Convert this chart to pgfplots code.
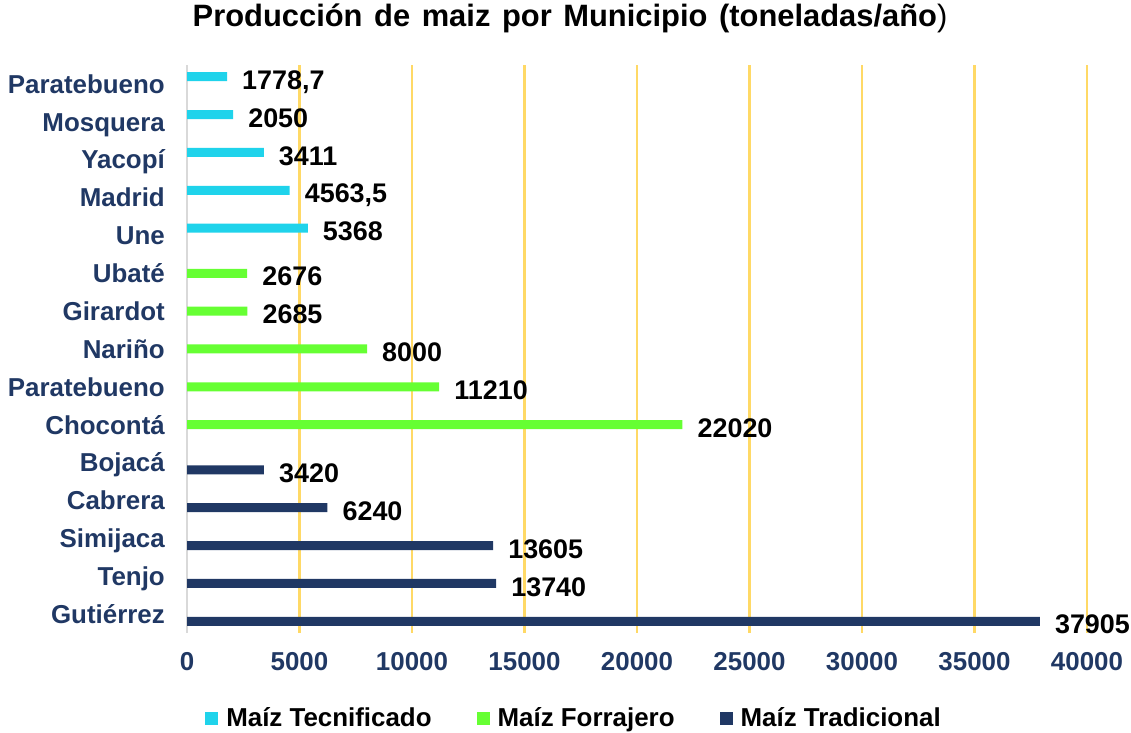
\documentclass[border=0pt]{standalone}
\usepackage{pgfplots}
\pgfplotsset{compat=1.18}
\usepackage{fontspec}
\setmainfont{Liberation Sans}
\definecolor{cTec}{HTML}{1FD3EB}
\definecolor{cFor}{HTML}{66FF33}
\definecolor{cTra}{HTML}{203864}
\definecolor{cGrid}{HTML}{FFD966}
\definecolor{cAxis}{HTML}{D9D9D9}
\newcommand{\bigb}{\bfseries\fontsize{26}{30}\selectfont}
\newcommand{\valb}{\bfseries\fontsize{27}{31}\selectfont}
\begin{document}
\begin{tikzpicture}[x=1bp,y=1bp]
\useasboundingbox (0,0) rectangle (1131,733);
\node[font=\bfseries\fontsize{31}{35}\selectfont, anchor=center] at (570,715) {Producción\hspace{3bp} de\hspace{3bp} maiz\hspace{3bp} por\hspace{3bp} Municipio\hspace{3bp} (toneladas/año\mdseries)};
\begin{axis}[
  at={(187bp,100bp)}, anchor=south west,
  scale only axis, width=900bp, height=568bp,
  xbar, bar width=9bp,
  xmin=0, xmax=40000, ymin=-0.5, ymax=14.5,
  xtick={0,5000,...,40000},
  scaled x ticks=false,
  ytick={0,...,14},
  yticklabels={Gutiérrez,Tenjo,Simijaca,Cabrera,Bojacá,Chocontá,Paratebueno,Nariño,Girardot,Ubaté,Une,Madrid,Yacopí,Mosquera,Paratebueno},
  axis lines*=left,
  x axis line style={draw=none},
  y axis line style={draw=cAxis, line width=2bp},
  major tick length=0pt,
  xmajorgrids,
  major grid style={draw=cGrid, line width=2.5bp},
  /pgf/number format/assume math mode=true,
  /pgf/number format/use comma,
  /pgf/number format/1000 sep={},
  xticklabel style={font=\bigb, text=cTra, inner sep=0pt, yshift=-19bp, /pgf/number format/fixed},
  yticklabel style={font=\bigb, text=cTra, inner sep=0pt, xshift=-22bp, text height=18.6bp, text depth=0pt, anchor=east},
  nodes near coords,
  every node near coord/.append style={font=\valb, black, anchor=west, inner sep=0pt, xshift=15bp, yshift=-3bp, text height=19.3bp, text depth=0pt},
  clip=false,
  legend columns=3,
  legend style={at={(0.43,-0.15)}, anchor=center, draw=none, font=\bigb, text=black,
    /tikz/every odd column/.append style={column sep=6bp},
    /tikz/every even column/.append style={column sep=43bp}},
  mylegend/.style={legend image code/.code={\fill[##1, draw=none] (0bp,-6.5bp) rectangle (13bp,6.5bp);}},
]
\addplot[fill=cTec, draw=none, bar shift=7.2bp, mylegend] coordinates {(1778.7,14) (2050,13) (3411,12) (4563.5,11) (5368,10)};
\addplot[fill=cFor, draw=none, bar shift=0bp, mylegend] coordinates {(2676,9) (2685,8) (8000,7) (11210,6) (22020,5)};
\addplot[fill=cTra, draw=none, bar shift=-7.2bp, mylegend] coordinates {(3420,4) (6240,3) (13605,2) (13740,1) (37905,0)};
\legend{Maíz Tecnificado, Maíz Forrajero, Maíz Tradicional}
\end{axis}
\end{tikzpicture}
\end{document}
